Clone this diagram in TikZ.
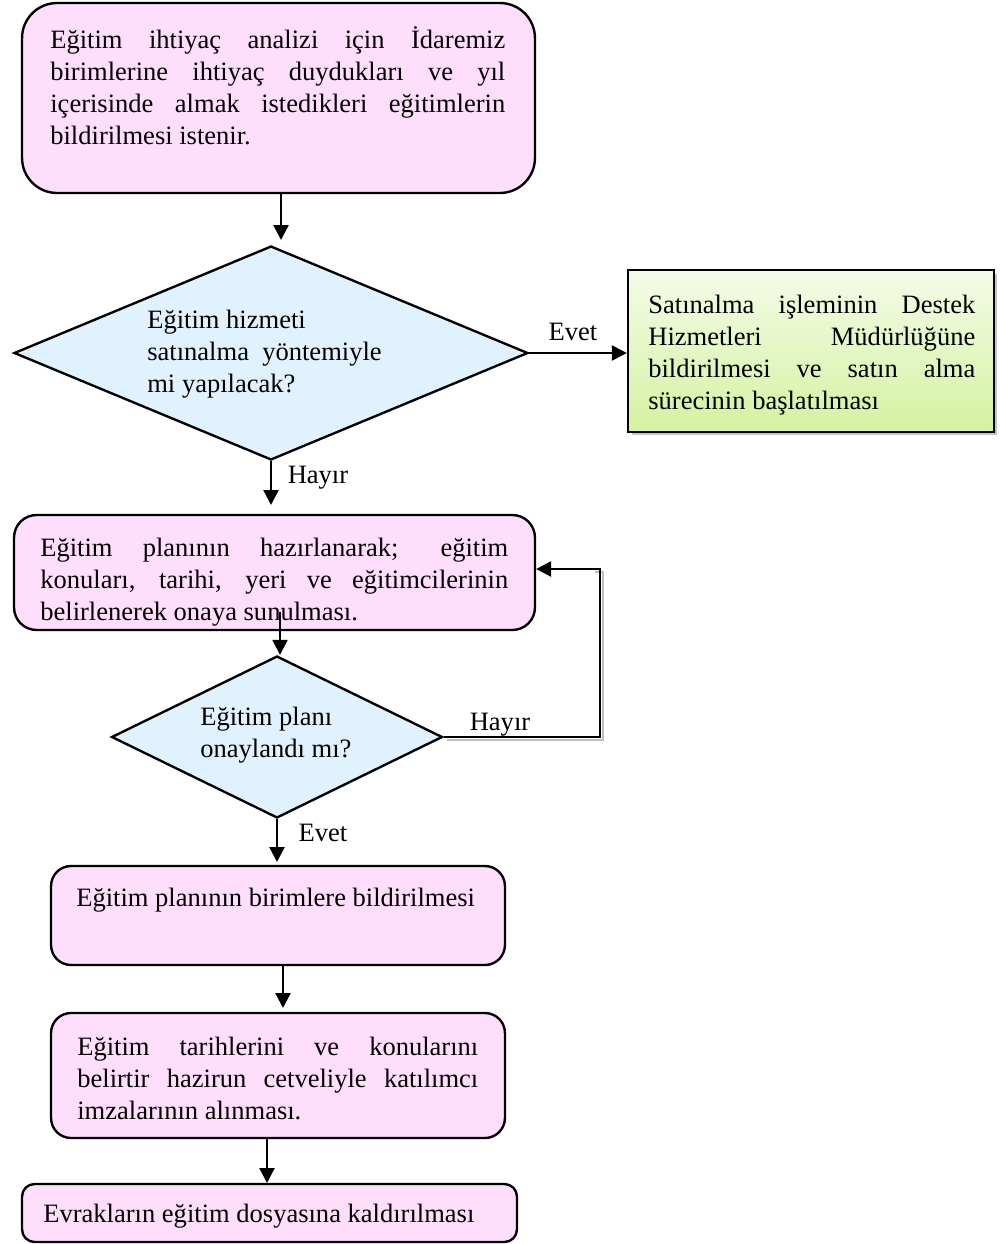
\documentclass[tikz,border=0pt]{standalone}
\usepackage{fontspec}
\setmainfont{Liberation Serif}
\usetikzlibrary{shapes.geometric,arrows.meta,shadows}
\definecolor{pinkfill}{HTML}{FFDEFC}
\definecolor{bluefill}{HTML}{E0F2FE}
\definecolor{greentop}{HTML}{F5FBE8}
\definecolor{greenbot}{HTML}{D4F2A0}
\newcommand{\jl}[2]{\makebox[#1][s]{#2}}
\begin{document}
\begin{tikzpicture}[x=0.02cm,y=-0.02cm,
  proc/.style={draw, line width=1.35pt, fill=pinkfill, inner sep=0pt},
  dec/.style={draw, line width=1.35pt, fill=bluefill, diamond, inner sep=0pt},
  txt/.style={inner sep=0pt, anchor=north west, align=left,
    font=\fontsize{15.1pt}{18.2pt}\selectfont},
  lbl/.style={inner sep=0pt, anchor=base, font=\fontsize{15.1pt}{18.2pt}\selectfont},
  arr/.style={line width=1.35pt, -{Triangle[length=0.3cm,width=0.3cm]}}]
\useasboundingbox (0,0) rectangle (1000,1244);
% shapes
\node[proc, rounded corners=0.7cm, minimum width=10.26cm, minimum height=3.8cm] (b1) at (278.5,98) {};
\node[dec, aspect=2.4, minimum width=10.28cm, minimum height=4.28cm] (d1) at (271,353) {};
\node[draw, line width=1.35pt, top color=greentop, bottom color=greenbot, inner sep=0pt,
  minimum width=7.32cm, minimum height=3.24cm,
  drop shadow={shadow xshift=0.07cm, shadow yshift=-0.07cm, fill=black!45}] (g) at (811,351) {};
\node[proc, rounded corners=0.45cm, minimum width=10.42cm, minimum height=2.3cm] (b3) at (274.5,572.5) {};
\node[dec, aspect=2.04, minimum width=6.62cm, minimum height=3.24cm] (d2) at (277,737) {};
\node[proc, rounded corners=0.4cm, minimum width=9.08cm, minimum height=1.98cm] (b4) at (278,915.5) {};
\node[proc, rounded corners=0.4cm, minimum width=9.08cm, minimum height=2.5cm] (b5) at (278,1075.5) {};
\node[proc, rounded corners=0.25cm, minimum width=9.9cm, minimum height=1.16cm] (b6) at (269.5,1213) {};
% texts
\node[txt] (t1) at (50,26) {\strut\jl{9.1cm}{Eğitim ihtiyaç analizi için İdaremiz}\\
\jl{9.1cm}{birimlerine ihtiyaç duydukları ve yıl}\\
\jl{9.1cm}{içerisinde almak istedikleri eğitimlerin}\\
bildirilmesi istenir.};
\node[txt] (t2) at (147,306) {\strut Eğitim hizmeti\\ satınalma\ \ yöntemiyle\\ mi yapılacak?};
\node[txt] (t3) at (648,291) {\strut\jl{6.54cm}{Satınalma işleminin Destek}\\
\jl{6.54cm}{Hizmetleri Müdürlüğüne}\\
\jl{6.54cm}{bildirilmesi ve satın alma}\\
sürecinin başlatılması};
\node[txt] (t4) at (40,534) {\strut\jl{9.36cm}{Eğitim planının hazırlanarak; eğitim}\\
\jl{9.36cm}{konuları, tarihi, yeri ve eğitimcilerinin}\\
belirlenerek onaya sunulması.};
\node[txt] (t5) at (200,703) {\strut Eğitim planı\\ onaylandı mı?};
\node[txt] (t6) at (76,884) {\strut Eğitim planının birimlere bildirilmesi};
\node[txt] (t7) at (77,1033) {\strut\jl{8.02cm}{Eğitim tarihlerini ve konularını}\\
\jl{8.02cm}{belirtir hazirun cetveliyle katılımcı}\\
imzalarının alınması.};
\node[txt] (t8) at (43,1200) {\strut Evrakların eğitim dosyasına kaldırılması};
% labels
\node[lbl] (l1) at (573,340) {Evet};
\node[lbl] (l2) at (318,483) {Hayır};
\node[lbl] (l3) at (500,730) {Hayır};
\node[lbl] (l4) at (323,841) {Evet};
% connector points
\coordinate (c1) at (281,240);
\coordinate (c2) at (271,505);
\coordinate (c3) at (280,612);
\coordinate (c4) at (600,569);
\coordinate (c5) at (277,862);
\coordinate (c6) at (283,1008);
\coordinate (c7) at (267,1183);
% connectors
\draw[arr] (b1.south -| c1) -- (c1);
\draw[arr] (d1.east) -- (d1.east -| g.west);
\draw[arr] (d1.south) -- (c2);
\draw[arr] (c3) -- (c3 |- d2.north);
\draw[black!25, line width=1.35pt] ([xshift=0.06cm,yshift=-0.06cm]d2.east) -| ([xshift=0.06cm,yshift=-0.06cm]c4) -- ([xshift=-0.1cm,yshift=-0.06cm]c4);
\draw[arr] (d2.east) -| (c4) -- (c4 -| b3.east);
\draw[arr] (d2.south) -- (c5);
\draw[arr] (b4.south -| c6) -- (c6);
\draw[arr] (b5.south -| c7) -- (c7);
\end{tikzpicture}
\end{document}
